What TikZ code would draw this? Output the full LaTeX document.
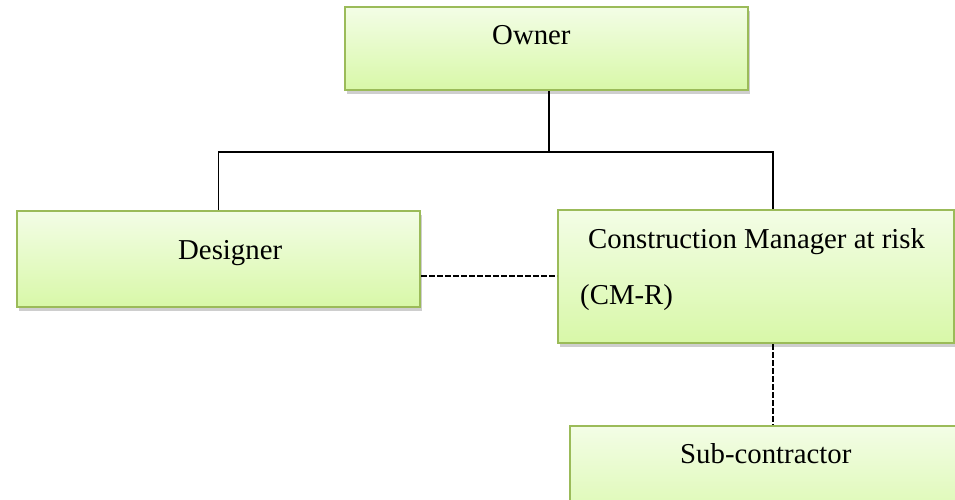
\documentclass[tikz,border=0pt]{standalone}
\usepackage{fontspec}
\setmainfont{Liberation Serif}
\usetikzlibrary{shadows}
\definecolor{boxedge}{RGB}{155,187,89}
\definecolor{boxtop}{RGB}{243,253,230}
\definecolor{boxbottom}{RGB}{216,248,168}
\tikzset{
  orgbox/.style={rectangle, draw=boxedge, line width=2pt,
    top color=boxtop, bottom color=boxbottom, inner sep=0pt,
    drop shadow={shadow xshift=2pt, shadow yshift=-4pt, opacity=.35, fill=black!55}},
  boxtext/.style={anchor=base west, inner sep=0pt, font=\fontsize{28.8}{34}\selectfont},
  solidlink/.style={draw=black, line width=1.9pt},
  dashlink/.style={draw=black, line width=1.9pt, dash pattern=on 5.5pt off 2.5pt}
}
\begin{document}
\begin{tikzpicture}[x=1pt, y=-1pt]
\useasboundingbox (0,0) rectangle (955,500);
\begin{scope}
\clip (0,0) rectangle (955,500);

% boxes
\node[orgbox, minimum width=403pt, minimum height=83pt] (owner) at (546.5,48.5) {};
\node[orgbox, minimum width=403pt, minimum height=96pt] (designer) at (218.5,259) {};
\node[orgbox, minimum width=396pt, minimum height=133pt] (cmr) at (756,276.5) {};
\node[orgbox, minimum width=400pt, minimum height=110pt] (sub) at (770,481) {};

% labels
\node[boxtext] (ownerlbl) at (492,45) {Owner};
\node[boxtext] (designerlbl) at (178,259) {Designer};
\node[boxtext] (cmrlbl) at (588,248) {Construction Manager at risk};
\node[boxtext] (cmrabbr) at (580,304) {(CM-R)};
\node[boxtext] (sublbl) at (680,463) {Sub-contractor};

% connector points
\coordinate (bus) at (549,152);
\coordinate (cmdrop) at (773,152);
\coordinate (dashrow) at (0,276);

% solid hierarchy lines
\draw[solidlink] (owner.south -| bus) -- (bus);
\draw[solidlink] (designer.north) |- (bus) -| (cmr.north -| cmdrop);

% dashed relations
\draw[dashlink] (designer.east |- dashrow) -- (cmr.west |- dashrow);
\draw[dashlink] (cmr.south -| cmdrop) -- (sub.north -| cmdrop);
\end{scope}
\end{tikzpicture}
\end{document}
